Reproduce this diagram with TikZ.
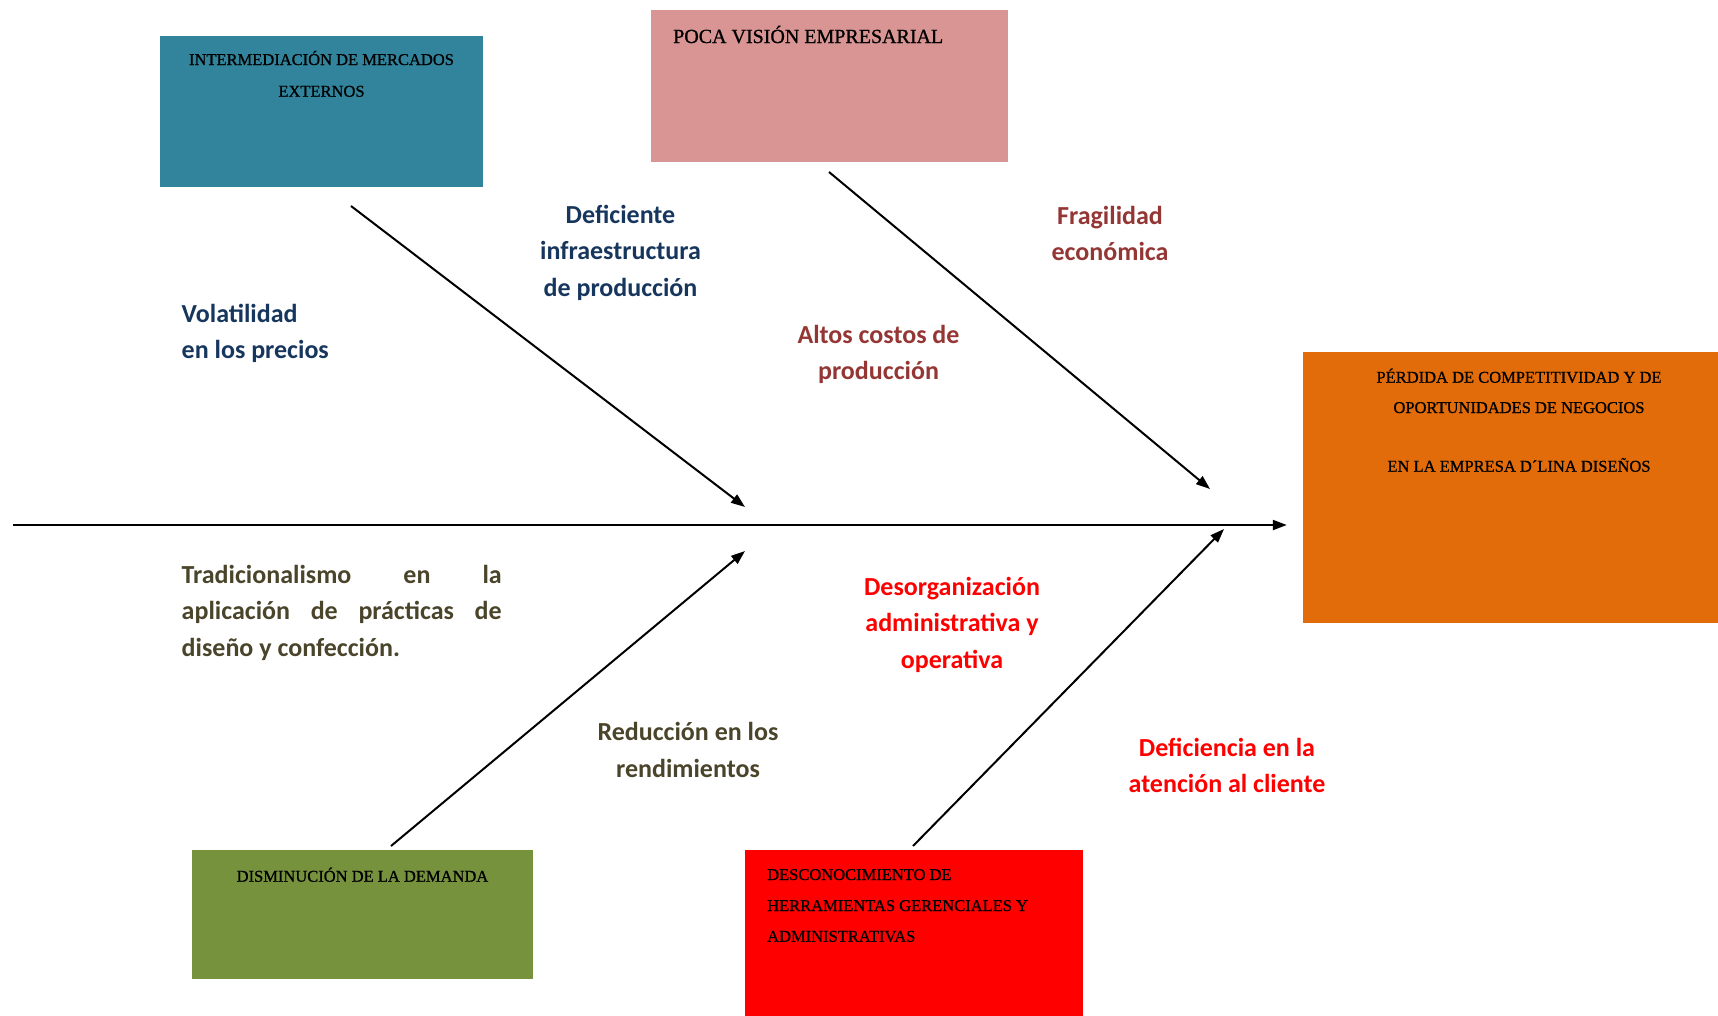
\documentclass[tikz,border=0pt]{standalone}
\usepackage{fontspec}
\setmainfont{Liberation Serif}
\newfontfamily\boxfont[FakeBold=0.9]{Liberation Serif}
\newfontfamily\lblfont{Carlito}
\usetikzlibrary{arrows.meta}

\definecolor{tealbox}{HTML}{31849B}
\definecolor{pinkbox}{HTML}{D99594}
\definecolor{orangebox}{HTML}{E36C0A}
\definecolor{greenbox}{HTML}{76923C}
\definecolor{redbox}{HTML}{FF0000}
\definecolor{navytext}{HTML}{17365D}
\definecolor{maroontext}{HTML}{943634}
\definecolor{olivetext}{HTML}{4A442A}
\definecolor{redtext}{HTML}{FF0000}

\begin{document}
\begin{tikzpicture}[x=1pt,y=-1pt,
  catbox/.style={rectangle, draw=none, inner sep=0pt},
  boxtext/.style={inner sep=0pt, anchor=base, font=\boxfont\fontsize{16.5}{31}\selectfont},
  lbl/.style={inner sep=0pt, anchor=base, align=center,
    font=\lblfont\bfseries\fontsize{26}{36.5}\selectfont},
  bone/.style={line width=2pt, -{Triangle[length=14pt,width=10pt]}}
]
\useasboundingbox (0,0) rectangle (1718,1015);

% category boxes
\node[catbox, fill=tealbox, minimum width=323pt, minimum height=151pt] (mercados) at (321.5,111.5) {};
\node[catbox, fill=pinkbox, minimum width=357pt, minimum height=152pt] (vision) at (829.5,86) {};
\node[catbox, fill=orangebox, minimum width=432pt, minimum height=271pt] (effect) at (1519,487.5) {};
\node[catbox, fill=greenbox, minimum width=341pt, minimum height=129pt] (demanda) at (362.5,914.5) {};
\node[catbox, fill=redbox, minimum width=338pt, minimum height=180pt] (herram) at (914,940) {};

% box captions
\node[boxtext] (mercados1) at (321.5,65) {INTERMEDIACIÓN DE MERCADOS};
\node[boxtext] (mercados2) at (321.5,96.7) {EXTERNOS};
\node[boxtext, anchor=base west, font=\boxfont\fontsize{20}{31}\selectfont] (vision1) at (673,43) {POCA VISIÓN EMPRESARIAL};
\node[boxtext] (effect1) at (1519,382.7) {PÉRDIDA DE COMPETITIVIDAD Y DE};
\node[boxtext] (effect2) at (1519,413) {OPORTUNIDADES DE NEGOCIOS};
\node[boxtext] (effect3) at (1519,471.7) {EN LA EMPRESA D´LINA DISEÑOS};
\node[boxtext] (demanda1) at (362.5,881.7) {DISMINUCIÓN DE LA DEMANDA};
\node[boxtext, anchor=base west] (herram1) at (767,880) {DESCONOCIMIENTO DE};
\node[boxtext, anchor=base west] (herram2) at (767,911) {HERRAMIENTAS GERENCIALES Y};
\node[boxtext, anchor=base west] (herram3) at (767,941.7) {ADMINISTRATIVAS};

% spine and bones
\coordinate (tail) at (13,525);
\draw[bone, shorten >=16pt] (tail) -- (tail -| effect.west);

\coordinate (b1s) at (351,206);  \coordinate (b1e) at (745,507);
\coordinate (b2s) at (829,172);  \coordinate (b2e) at (1210,489);
\coordinate (b3s) at (391,846);  \coordinate (b3e) at (745,551);
\coordinate (b4s) at (913,846);  \coordinate (b4e) at (1224,529);
\draw[bone] (b1s) -- (b1e);
\draw[bone] (b2s) -- (b2e);
\draw[bone] (b3s) -- (b3e);
\draw[bone] (b4s) -- (b4e);

% cause labels (base anchor sits on the last line)
\node[lbl, anchor=base west, align=left, text=navytext] (volat) at (181.5,358.5) {Volatilidad\\en los precios};
\node[lbl, text=navytext] (infra) at (620.5,296) {Deficiente\\infraestructura\\de producción};
\node[lbl, text=maroontext] (costos) at (878.5,379.5) {Altos costos de\\producción};
\node[lbl, text=maroontext] (fragil) at (1110,260.5) {Fragilidad\\económica};
\node[lbl, anchor=base west, align=justify, text width=320pt, text=olivetext] (tradic) at (181.5,583)
  {Tradicionalismo en la\linebreak aplicación de prácticas de\linebreak diseño y confección.};
\node[lbl, text=olivetext] (rendim) at (688,777) {Reducción en los\\rendimientos};
\node[lbl, text=redtext] (desorg) at (952,668) {Desorganización\\administrativa y\\operativa};
\node[lbl, text=redtext] (atenc) at (1227,792.5) {Deficiencia en la\\atención al cliente};
\end{tikzpicture}
\end{document}
